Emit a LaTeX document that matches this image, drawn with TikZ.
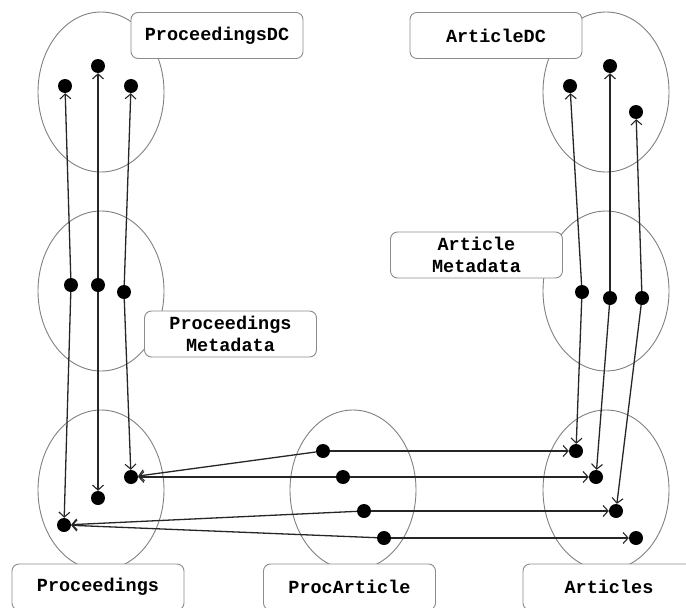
\documentclass[tikz,border=0pt]{standalone}
\usepackage{fontspec}
\setmonofont{Liberation Mono}
\usetikzlibrary{arrows.meta,shapes.geometric}
\tikzset{
  grp/.style={draw=black!50, line width=0.9pt, ellipse, minimum width=126pt, minimum height=160pt, inner sep=0pt},
  tag/.style={draw=black!45, fill=white, line width=0.9pt, rounded corners=7pt,
              minimum width=172pt, minimum height=46pt, align=center,
              font=\fontsize{18.5}{22}\selectfont\ttfamily\bfseries},
  dot/.style={circle, fill=black, inner sep=0pt, minimum size=14pt},
  link/.style={draw=black!85, line width=1.3pt, -{Straight Barb[length=5pt,width=11pt,line width=1.1pt]}}
}
\begin{document}
\begin{tikzpicture}[x=1pt, y=-1pt]
\useasboundingbox (0,0) rectangle (686,608);

% groups
\node[grp] (gpdc)  at (101,92)  {};
\node[grp] (gpmd)  at (101,291) {};
\node[grp] (gproc) at (101,490) {};
\node[grp] (gpa)   at (353,490) {};
\node[grp] (gart)  at (606,490) {};
\node[grp] (gamd)  at (606,291) {};
\node[grp] (gadc)  at (606,92)  {};

% labels
\node[tag] (lpdc)  at (217,35.5)  {ProceedingsDC};
\node[tag] (ladc)  at (496,35.5)  {ArticleDC};
\node[tag] (lamd)  at (476.5,255) {Article\\Metadata};
\node[tag] (lpmd)  at (230.5,334) {Proceedings\\Metadata};
\node[tag] (lproc) at (98,587)    {Proceedings};
\node[tag] (lpa)   at (349.5,587) {ProcArticle};
\node[tag] (lart)  at (609,587)   {Articles};

% elements: ProceedingsDC
\node[dot] (pdc1) at (65,86) {};
\node[dot] (pdc2) at (98,66) {};
\node[dot] (pdc3) at (131,86) {};
% Proceedings metadata
\node[dot] (pmd1) at (71,285) {};
\node[dot] (pmd2) at (98,285) {};
\node[dot] (pmd3) at (124,292) {};
% Proceedings
\node[dot] (pr1) at (64,525) {};
\node[dot] (pr2) at (98,498) {};
\node[dot] (pr3) at (131,477) {};
% ProcArticle
\node[dot] (pa1) at (323,451) {};
\node[dot] (pa2) at (343,477) {};
\node[dot] (pa3) at (364,511) {};
\node[dot] (pa4) at (384,538) {};
% Articles
\node[dot] (ar1) at (576,451) {};
\node[dot] (ar2) at (596,477) {};
\node[dot] (ar3) at (616,511) {};
\node[dot] (ar4) at (636,538) {};
% Article metadata
\node[dot] (amd1) at (582,292) {};
\node[dot] (amd2) at (610,298) {};
\node[dot] (amd3) at (642,298) {};
% ArticleDC
\node[dot] (adc1) at (570,86) {};
\node[dot] (adc2) at (610,66) {};
\node[dot] (adc3) at (636,112) {};

% metadata to DC
\draw[link] (pmd1) -- (pdc1);
\draw[link] (pmd2) -- (pdc2);
\draw[link] (pmd3) -- (pdc3);
\draw[link] (amd1) -- (adc1);
\draw[link] (amd2) -- (adc2);
\draw[link] (amd3) -- (adc3);
% metadata to records
\draw[link] (pmd1) -- (pr1);
\draw[link] (pmd2) -- (pr2);
\draw[link] (pmd3) -- (pr3);
\draw[link] (amd1) -- (ar1);
\draw[link] (amd2) -- (ar2);
\draw[link] (amd3) -- (ar3);
% ProcArticle to Proceedings
\draw[link] (pa1) -- (pr3);
\draw[link] (pa2) -- (pr3);
\draw[link] (pa3) -- (pr1);
\draw[link] (pa4) -- (pr1);
% ProcArticle to Articles
\draw[link] (pa1) -- (ar1);
\draw[link] (pa2) -- (ar2);
\draw[link] (pa3) -- (ar3);
\draw[link] (pa4) -- (ar4);
\end{tikzpicture}
\end{document}
